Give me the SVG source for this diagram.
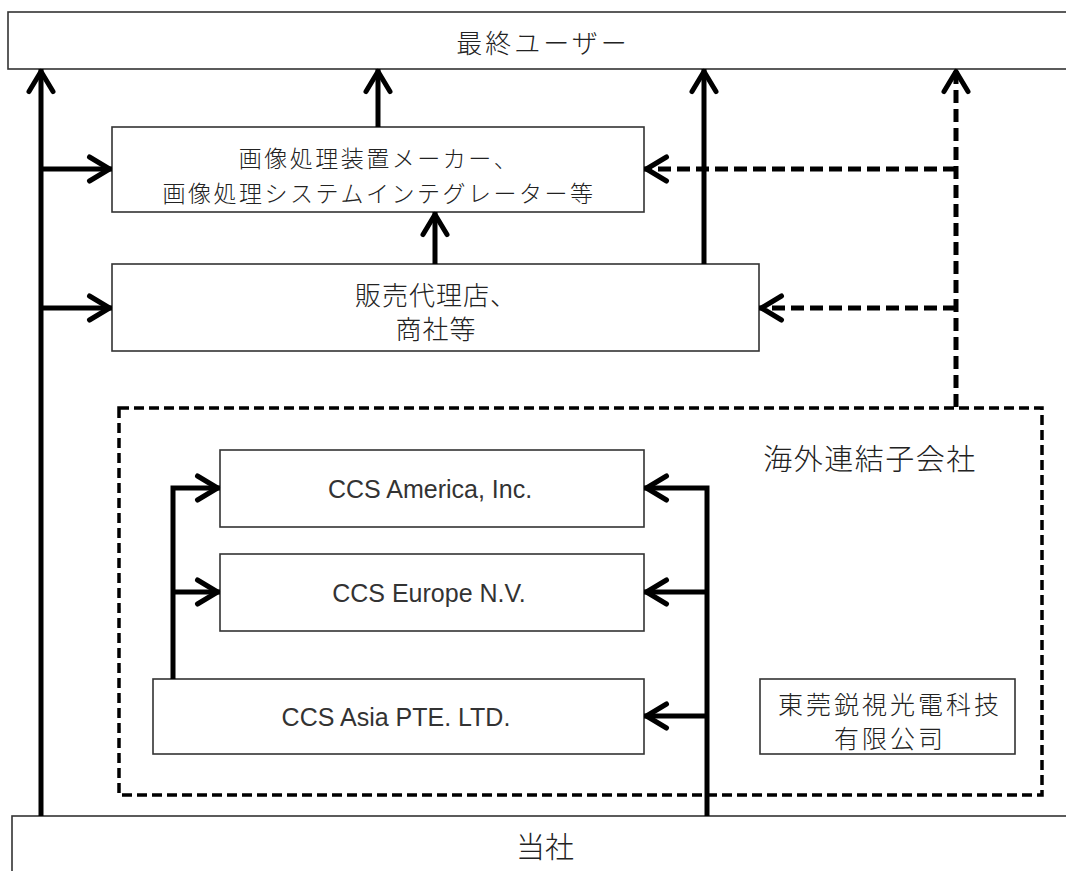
<svg xmlns="http://www.w3.org/2000/svg" width="1066" height="871" viewBox="0 0 1066 871">
<style>
.box{fill:#fff;stroke:#333;stroke-width:1.6}
.grp{fill:none;stroke:#000;stroke-width:3.5;stroke-dasharray:10 5}
.c{fill:none;stroke:#000;stroke-width:5}
.d{fill:none;stroke:#000;stroke-width:5;stroke-dasharray:13 6}
.ja{font-family:"Noto Sans CJK JP","Noto Sans CJK SC",sans-serif;font-weight:300;fill:#222;text-anchor:middle;dominant-baseline:central}
.en{font-family:"Liberation Sans",Arial,sans-serif;fill:#333;text-anchor:middle;font-size:25px}
</style>
<defs>
<marker id="ah" viewBox="-26 -16 32 32" refX="2.5" refY="0" markerWidth="32" markerHeight="32" markerUnits="userSpaceOnUse" orient="auto">
<path d="M-20,-12 L0,0 L-20,12" fill="none" stroke="#000" stroke-width="5" stroke-linecap="round" stroke-linejoin="round" stroke-dasharray="none"/>
</marker>
</defs>
<rect width="1066" height="871" fill="#fff"/>

<g id="end-user">
<rect class="box" x="8" y="12" width="1080" height="57"/>
<text class="ja" x="543" y="41.5" font-size="26" letter-spacing="3">最終ユーザー</text>
</g>

<g id="maker">
<rect class="box" x="112" y="127" width="532" height="85"/>
<text class="ja" x="379" y="157" font-size="23" letter-spacing="2.5">画像処理装置メーカー、</text>
<text class="ja" x="379" y="192" font-size="23" letter-spacing="2.5">画像処理システムインテグレーター等</text>
</g>

<g id="dealer">
<rect class="box" x="112" y="264" width="647" height="87"/>
<text class="ja" x="436" y="293.5" font-size="26" letter-spacing="1">販売代理店、</text>
<text class="ja" x="436" y="327" font-size="26" letter-spacing="1">商社等</text>
</g>

<g id="subsidiaries">
<rect class="grp" x="119" y="408" width="923" height="387"/>
<text class="ja" x="870" y="457" font-size="29" letter-spacing="1.5">海外連結子会社</text>
</g>

<g id="ccs-america">
<rect class="box" x="220" y="450" width="424" height="77"/>
<text class="en" x="430" y="498">CCS America, Inc.</text>
</g>

<g id="ccs-europe">
<rect class="box" x="220" y="554" width="424" height="77"/>
<text class="en" x="429" y="602">CCS Europe N.V.</text>
</g>

<g id="ccs-asia">
<rect class="box" x="153" y="679" width="491" height="75"/>
<text class="en" x="396" y="725.5">CCS Asia PTE. LTD.</text>
</g>

<g id="dongguan">
<rect class="box" x="760" y="679" width="255" height="75"/>
<text class="ja" x="890" y="703" font-size="25" letter-spacing="3">東莞鋭視光電科技</text>
<text class="ja" x="890" y="737" font-size="25" letter-spacing="3">有限公司</text>
</g>

<g id="company">
<rect class="box" x="12" y="816" width="1080" height="80"/>
<text class="ja" x="545" y="845" font-size="29">当社</text>
</g>

<g id="connectors">
<path class="c" d="M41,816 V69" marker-end="url(#ah)"/>
<path class="c" d="M41,169 H112" marker-end="url(#ah)"/>
<path class="c" d="M41,308 H112" marker-end="url(#ah)"/>
<path class="c" d="M378,127 V69" marker-end="url(#ah)"/>
<path class="c" d="M435,264 V212" marker-end="url(#ah)"/>
<path class="c" d="M704,264 V69" marker-end="url(#ah)"/>
<path class="d" d="M956,407 V69" marker-end="url(#ah)"/>
<path class="d" d="M956,169 H644" marker-end="url(#ah)"/>
<path class="d" d="M956,308 H759" marker-end="url(#ah)"/>
<path class="c" d="M173,679 V488 H220" marker-end="url(#ah)"/>
<path class="c" d="M173,592 H220" marker-end="url(#ah)"/>
<path class="c" d="M707,816 V488 H644" marker-end="url(#ah)"/>
<path class="c" d="M707,592 H644" marker-end="url(#ah)"/>
<path class="c" d="M707,716 H644" marker-end="url(#ah)"/>
</g>
</svg>
